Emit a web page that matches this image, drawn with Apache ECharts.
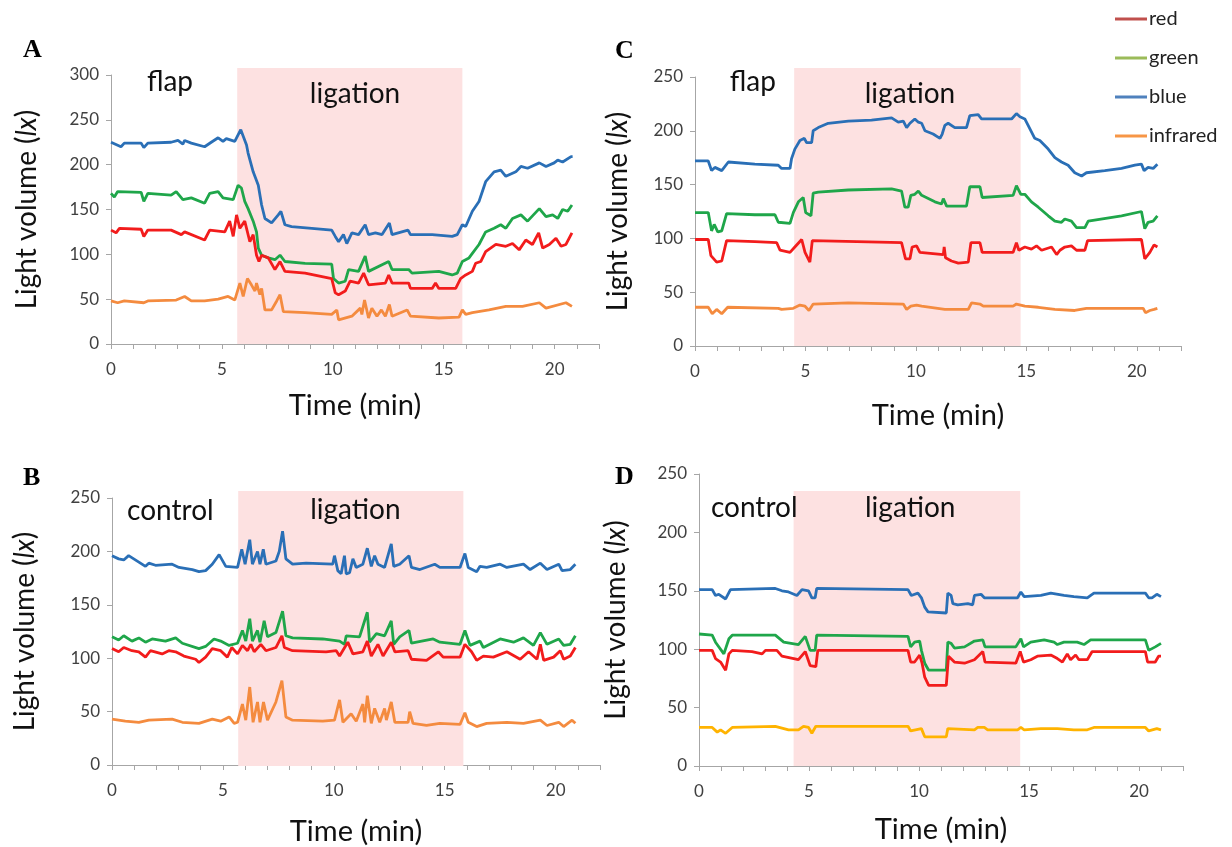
<!DOCTYPE html>
<html>
	<head>
		<meta charset="utf-8">
		<title>Light volume</title>
		<style type="text/css">
			html, body { margin: 0; padding: 0; background: #fff; }
			#main { width: 1232px; height: 847px; }
		</style>
	</head>
	<body>
		<div id="main"></div>
		<script src="https://cdn.jsdelivr.net/npm/echarts@6/dist/echarts.min.js"></script>
		<script type="text/javascript">
			// ---- data: [time (min), light volume (lx)] ----
			var aBlue = [[0,225],[0.45,220],[0.6,224],[1.36,224],[1.48,219],[1.66,224],[2.71,225],[3.02,227],[3.24,223],[3.32,227],[3.62,224],[4.22,220],[4.52,225],[4.83,230],[5.05,226],[5.2,229],[5.58,226],[5.85,239],[6.11,222],[6.18,213],[6.41,192],[6.64,177],[6.79,155],[6.94,140],[7.24,135],[7.54,144],[7.66,148],[7.84,133],[8.14,131],[9.05,129],[9.95,127],[10.11,120],[10.26,114],[10.48,122],[10.63,112],[10.86,124],[11.16,122],[11.46,133],[11.61,122],[11.92,124],[12.22,122],[12.55,135],[12.67,122],[13.39,127],[13.5,122],[14.48,122],[15.38,120],[15.61,122],[15.84,133],[15.99,131],[16.29,148],[16.59,159],[16.89,181],[17.27,192],[17.57,194],[17.8,187],[18.25,192],[18.48,198],[18.78,196],[19.31,202],[19.61,198],[19.98,202],[20.14,205],[20.36,203],[20.74,209],[20.81,209]];
			var aGreen = [[0,168],[0.15,164],[0.3,170],[1.36,169],[1.48,159],[1.66,168],[2.71,166],[2.94,170],[3.24,161],[3.62,163],[4.22,157],[4.45,168],[4.83,170],[5.05,163],[5.51,161],[5.73,177],[5.88,174],[6.03,159],[6.18,151],[6.41,137],[6.56,125],[6.64,107],[6.79,99],[7.09,96],[7.39,94],[7.62,99],[7.84,92],[8.75,90],[9.95,89],[10.03,73],[10.26,68],[10.56,70],[10.71,83],[11.16,81],[11.46,98],[11.61,81],[12.52,92],[12.67,83],[13.42,83],[13.57,79],[14.78,81],[15.38,77],[15.61,79],[15.84,92],[16.14,96],[16.29,101],[16.59,111],[16.89,125],[17.27,129],[17.57,133],[17.8,129],[18.1,140],[18.48,144],[18.78,137],[19.31,151],[19.61,142],[19.91,144],[20.14,140],[20.36,150],[20.59,148],[20.78,155]];
			var aRed = [[0,127],[0.23,124],[0.38,129],[1.36,128],[1.48,120],[1.66,127],[2.71,127],[3.17,122],[3.32,125],[4.22,116],[4.45,127],[5.13,125],[5.35,137],[5.51,120],[5.66,144],[5.81,129],[6.03,137],[6.26,114],[6.41,122],[6.56,99],[6.67,92],[6.79,99],[7.09,96],[7.39,83],[7.62,92],[7.84,81],[8.75,79],[9.95,73],[10.11,57],[10.26,55],[10.56,59],[10.78,70],[11.16,68],[11.39,79],[11.61,66],[12.37,68],[12.52,77],[12.67,68],[13.42,68],[13.5,62],[14.48,62],[14.63,68],[14.78,62],[15.54,62],[15.76,73],[15.99,77],[16.29,81],[16.44,90],[16.67,92],[16.89,103],[17.35,111],[17.8,109],[18.1,112],[18.4,105],[18.7,116],[19.0,111],[19.28,124],[19.46,107],[19.76,111],[20.06,118],[20.29,109],[20.51,111],[20.78,124]];
			var aInfrared = [[0,48],[0.3,46],[0.6,48],[1.48,46],[1.66,48],[2.94,49],[3.32,53],[3.62,48],[4.22,48],[4.83,50],[5.28,53],[5.58,49],[5.81,68],[5.96,53],[6.15,73],[6.33,66],[6.49,59],[6.56,68],[6.71,55],[6.79,62],[6.94,38],[7.24,38],[7.47,48],[7.62,55],[7.77,36],[8.75,35],[9.95,33],[10.18,38],[10.26,27],[10.86,31],[11.24,40],[11.31,33],[11.43,49],[11.61,29],[11.76,40],[11.99,31],[12.19,38],[12.37,31],[12.55,44],[12.67,31],[13.35,38],[13.5,31],[14.78,29],[15.69,30],[15.84,38],[15.99,33],[16.29,35],[17.04,38],[17.8,42],[18.55,42],[19.31,46],[19.61,40],[20.51,46],[20.78,42]];

			var bBlue = [[0,196],[0.3,193],[0.53,192],[0.75,196],[0.98,193],[1.21,190],[1.51,186],[1.66,189],[1.96,187],[2.71,188],[3.02,185],[3.62,183],[3.92,181],[4.22,182],[4.52,188],[4.83,197],[5.13,186],[5.66,185],[5.85,202],[6.0,188],[6.21,211],[6.33,188],[6.56,200],[6.67,188],[6.82,202],[6.94,188],[7.39,191],[7.54,200],[7.69,219],[7.84,193],[8.14,188],[8.75,189],[9.95,188],[10.03,196],[10.18,182],[10.33,179],[10.48,196],[10.56,179],[10.71,180],[10.86,193],[11.01,185],[11.31,188],[11.51,203],[11.69,186],[11.84,196],[11.99,188],[12.29,185],[12.59,207],[12.7,186],[12.97,188],[13.39,196],[13.5,185],[13.88,183],[14.55,188],[14.78,185],[15.69,185],[15.91,198],[16.06,185],[16.44,181],[16.59,186],[16.89,185],[17.5,188],[17.8,185],[18.55,188],[18.85,183],[19.31,189],[19.61,183],[20.14,188],[20.29,182],[20.66,183],[20.89,188]];
			var bGreen = [[0,120],[0.3,117],[0.53,121],[0.9,116],[1.21,119],[1.51,115],[1.81,118],[2.41,116],[2.87,119],[3.17,114],[3.92,109],[4.22,111],[4.6,118],[4.9,116],[5.28,112],[5.66,114],[5.88,126],[6.03,116],[6.21,137],[6.33,116],[6.56,126],[6.67,115],[6.86,135],[7.01,120],[7.39,124],[7.69,144],[7.84,121],[8.14,119],[9.5,118],[10.26,116],[10.48,113],[10.56,121],[11.16,120],[11.51,143],[11.61,115],[11.92,123],[12.29,121],[12.59,135],[12.7,113],[12.97,120],[13.39,126],[13.5,114],[14.48,118],[14.78,115],[15.69,113],[15.91,126],[16.14,112],[16.59,116],[16.74,110],[17.5,118],[18.1,115],[18.55,119],[19.0,112],[19.31,124],[19.61,113],[20.14,118],[20.36,112],[20.66,113],[20.89,121]];
			var bRed = [[0,109],[0.3,106],[0.53,110],[0.9,107],[1.21,106],[1.51,101],[1.73,107],[2.26,104],[2.56,107],[2.87,106],[3.24,102],[3.77,99],[3.92,96],[4.22,101],[4.52,109],[4.9,107],[5.2,101],[5.4,110],[5.66,104],[5.88,112],[6.11,107],[6.26,113],[6.41,106],[6.71,113],[6.94,107],[7.39,110],[7.66,121],[7.77,110],[8.14,107],[9.65,106],[10.11,107],[10.26,102],[10.63,115],[10.86,104],[11.31,106],[11.51,116],[11.69,102],[11.99,113],[12.22,102],[12.59,115],[12.75,106],[13.35,107],[13.5,99],[14.18,98],[14.71,106],[14.93,101],[15.69,101],[15.91,113],[16.21,106],[16.44,98],[16.74,102],[17.19,101],[17.8,106],[18.4,99],[18.78,106],[19.16,99],[19.31,113],[19.46,98],[19.91,101],[20.21,107],[20.36,99],[20.66,102],[20.89,110]];
			var bInfrared = [[0,43],[0.6,41],[1.21,40],[1.66,42],[2.71,43],[3.17,40],[3.92,39],[4.52,43],[4.9,41],[5.28,45],[5.51,39],[5.66,40],[5.88,57],[6.03,42],[6.21,73],[6.36,40],[6.56,59],[6.67,40],[6.83,59],[7.01,42],[7.39,59],[7.66,79],[7.84,45],[8.14,42],[9.5,41],[10.03,42],[10.26,61],[10.41,40],[10.78,48],[11.01,41],[11.31,57],[11.39,40],[11.51,65],[11.69,39],[11.84,53],[12.07,40],[12.29,53],[12.37,42],[12.59,59],[12.75,40],[13.35,40],[13.42,50],[13.57,39],[14.18,37],[14.78,39],[15.69,38],[15.91,49],[16.06,40],[16.44,36],[16.89,39],[17.8,40],[18.55,39],[19.31,42],[19.61,37],[20.14,40],[20.36,36],[20.74,42],[20.89,39]];

			var cBlue = [[0,172],[0.6,172],[0.75,163],[0.9,166],[1.21,163],[1.51,171],[2.71,169],[3.77,168],[3.92,165],[4.3,165],[4.37,174],[4.52,183],[4.75,191],[4.95,193],[5.05,189],[5.28,189],[5.35,200],[5.58,203],[6.03,207],[6.94,209],[7.99,210],[8.9,212],[9.2,208],[9.43,209],[9.58,203],[9.73,207],[9.95,211],[10.11,208],[10.26,207],[10.41,200],[10.78,197],[11.09,193],[11.19,197],[11.31,205],[11.46,207],[11.76,203],[12.29,203],[12.44,214],[12.82,215],[12.97,211],[14.33,211],[14.55,216],[14.71,213],[14.93,211],[15.08,205],[15.38,193],[15.61,191],[15.99,183],[16.29,175],[16.59,171],[16.89,168],[17.19,161],[17.5,158],[17.72,161],[18.55,163],[19.31,165],[19.91,168],[20.21,169],[20.33,163],[20.51,166],[20.74,165],[20.93,169]];
			var cGreen = [[0,124],[0.6,124],[0.75,107],[0.87,113],[1.03,106],[1.21,107],[1.43,123],[2.71,122],[3.62,122],[3.77,115],[4.3,114],[4.45,124],[4.68,134],[4.9,138],[5.01,124],[5.25,121],[5.35,142],[5.58,143],[6.94,145],[8.9,146],[9.35,144],[9.5,129],[9.65,129],[9.77,140],[9.95,141],[10.11,144],[10.26,140],[10.86,134],[11.16,132],[11.24,137],[11.39,130],[12.29,130],[12.44,148],[12.9,148],[13.0,138],[14.4,140],[14.55,149],[14.75,141],[14.93,141],[15.23,134],[15.54,129],[15.99,121],[16.29,116],[16.59,115],[16.74,118],[17.04,116],[17.27,110],[17.65,110],[17.8,116],[19.31,121],[20.21,125],[20.36,109],[20.51,115],[20.74,116],[20.93,121]];
			var cRed = [[0,99],[0.6,99],[0.72,84],[0.98,78],[1.21,79],[1.43,98],[2.71,97],[3.7,96],[3.85,89],[4.3,87],[4.52,92],[4.83,99],[4.98,87],[5.2,78],[5.31,98],[9.35,96],[9.53,81],[9.73,81],[9.83,92],[10.03,93],[10.18,87],[11.24,85],[11.28,92],[11.34,82],[11.61,79],[11.92,77],[12.37,78],[12.49,96],[12.9,96],[13.0,87],[14.4,87],[14.55,96],[14.66,89],[14.93,92],[15.23,90],[15.46,93],[15.69,89],[16.14,92],[16.37,85],[16.52,89],[16.74,92],[17.04,93],[17.27,89],[17.65,89],[17.77,98],[20.21,99],[20.36,81],[20.59,87],[20.78,94],[20.93,92]];
			var cInfrared = [[0,36],[0.6,36],[0.78,30],[0.98,34],[1.21,30],[1.48,36],[3.77,35],[3.92,34],[4.45,35],[4.75,38],[4.98,37],[5.16,33],[5.35,39],[6.94,40],[9.43,39],[9.58,34],[9.77,37],[10.03,38],[10.26,37],[11.31,34],[12.37,34],[12.52,40],[12.9,39],[13.05,37],[14.4,37],[14.55,39],[14.93,37],[15.54,36],[16.29,34],[17.19,33],[17.72,35],[20.29,35],[20.39,31],[20.59,33],[20.78,34],[20.93,35]];

			var dBlue = [[0,151],[0.6,151],[0.75,146],[0.9,147],[1.21,143],[1.43,151],[3.47,152],[3.77,150],[4.07,149],[4.45,146],[4.68,151],[4.98,150],[5.13,144],[5.28,144],[5.35,152],[9.5,151],[9.65,146],[9.95,148],[10.11,144],[10.26,136],[10.41,132],[11.24,131],[11.31,148],[11.46,146],[11.54,139],[11.76,138],[12.22,139],[12.44,138],[12.52,146],[12.82,147],[12.97,144],[14.48,144],[14.63,149],[14.78,145],[15.54,146],[15.99,148],[16.59,146],[17.04,145],[17.65,144],[17.95,148],[20.29,148],[20.44,144],[20.59,144],[20.81,147],[21.0,145]];
			var dGreen = [[0,113],[0.6,112],[0.75,106],[1.13,96],[1.36,109],[1.51,112],[3.47,112],[3.85,106],[4.52,104],[4.83,111],[5.05,99],[5.28,99],[5.35,112],[9.5,111],[9.62,102],[9.8,106],[10.03,107],[10.11,99],[10.26,88],[10.44,82],[11.24,82],[11.31,106],[11.46,105],[11.61,101],[12.07,102],[12.52,107],[12.9,108],[13.0,102],[14.4,102],[14.63,109],[14.75,102],[15.08,106],[15.69,108],[16.14,106],[16.29,104],[16.59,106],[17.19,106],[17.5,104],[17.8,108],[20.29,108],[20.44,99],[20.74,102],[21.0,105]];
			var dRed = [[0,99],[0.6,99],[0.75,92],[0.98,89],[1.21,82],[1.36,96],[1.51,99],[2.41,98],[2.87,96],[3.02,99],[3.54,99],[3.77,94],[4.52,91],[4.83,98],[5.05,86],[5.31,85],[5.4,99],[9.5,99],[9.62,89],[9.8,89],[10.03,95],[10.14,88],[10.26,76],[10.44,69],[11.24,69],[11.34,94],[11.61,89],[12.07,88],[12.52,91],[12.9,98],[13.0,89],[14.4,88],[14.6,98],[14.75,89],[15.08,91],[15.38,94],[15.99,95],[16.29,92],[16.52,89],[16.74,96],[16.89,91],[17.12,95],[17.27,91],[17.65,91],[17.87,98],[20.29,98],[20.39,89],[20.74,89],[20.89,94],[21.0,94]];
			var dInfrared = [[0,33],[0.6,33],[0.83,29],[0.98,31],[1.21,28],[1.51,33],[3.47,34],[4.07,31],[4.52,31],[4.75,34],[4.98,33],[5.13,28],[5.31,34],[9.5,34],[9.62,30],[10.11,32],[10.26,25],[11.24,25],[11.31,32],[12.52,31],[12.67,33],[12.97,33],[13.12,31],[14.48,31],[14.63,33],[14.78,31],[15.54,32],[16.29,32],[17.04,31],[17.65,31],[17.95,33],[20.29,33],[20.44,30],[20.81,32],[21.0,31]];

			// ligation period per panel (A, B, C, D), min
			var ligationStart = [5.69, 5.69, 4.49, 4.3];
			var ligationEnd = [15.84, 15.84, 14.74, 14.6];
			var yMaxes = [300, 250, 250, 250];
			var panelLetters = ['A', 'B', 'C', 'D'];
			var siteNames = ['flap', 'control', 'flap', 'control'];
			var channelNames = ['red', 'green', 'blue', 'infrared'];

			var FONT = 'Lato, "Noto Sans", sans-serif';
			var AXIS_GREY = '#a6a6a6';
			var colRed = '#f21c1c', colGreen = '#1fa64a', colBlue = '#2a6fb6', colOrange = '#f48b3f', colYellow = '#ffb300';

			// layout of the four panels, in the order A, B, C, D
			// shadeTopPx: pixel top of the pink ligation band (it overshoots the plot top in A-C)
			var layout = [
				{ grid: { left: 111, top: 75, width: 488, height: 269 }, shadeTopPx: 68, siteAt: [2.66, 292], ligAt: [11.0, 279], xGap: 47, yGap: 70 },
				{ grid: { left: 112, top: 498, width: 488, height: 268 }, shadeTopPx: 491, siteAt: [2.63, 238], ligAt: [10.97, 239], xGap: 52, yGap: 73 },
				{ grid: { left: 695, top: 77, width: 486, height: 269 }, shadeTopPx: 68, siteAt: [2.62, 245], ligAt: [9.73, 234], xGap: 55, yGap: 63 },
				{ grid: { left: 699, top: 474, width: 484, height: 292 }, shadeTopPx: 491, siteAt: [2.51, 221], ligAt: [9.6, 221], xGap: 49, yGap: 69 }
			];
			var panelSeries = [
				{ red: aRed, green: aGreen, blue: aBlue, infrared: aInfrared, ir: colOrange },
				{ red: bRed, green: bGreen, blue: bBlue, infrared: bInfrared, ir: colOrange },
				{ red: cRed, green: cGreen, blue: cBlue, infrared: cInfrared, ir: colOrange },
				{ red: dRed, green: dGreen, blue: dBlue, infrared: dInfrared, ir: colYellow }
			];
			var letterPos = [[23, 37], [23, 465], [615, 38], [615, 464]];

			var myChart = echarts.init(document.getElementById('main'), null, { renderer: 'canvas' });

			var grids = [], xAxes = [], yAxes = [], series = [], titles = [];
			var labelStyle = { fontSize: 28, fontFamily: FONT, color: '#111' };
			var n = layout.length;

			layout.forEach(function(p, i) {
				grids.push(p.grid);
				xAxes.push({
					type: 'value', gridIndex: i, min: 0, max: 22, interval: 1,
					name: 'Time (min)', nameLocation: 'middle', nameGap: p.xGap,
					nameTextStyle: { fontSize: 29, fontFamily: FONT, color: '#111' },
					axisLine: { show: true, onZero: false, lineStyle: { color: AXIS_GREY, width: 1 } },
					axisTick: { show: true, length: 5, lineStyle: { color: AXIS_GREY } },
					axisLabel: {
						fontSize: 17, fontFamily: FONT, color: '#404040', margin: 17,
						formatter: function(v) { return (v % 5 === 0 && v <= 20) ? String(v) : ''; }
					},
					splitLine: { show: false }
				});
				yAxes.push({
					type: 'value', gridIndex: i, min: 0, max: yMaxes[i], interval: 50,
					name: '{n|Light volume (}{i|lx}{n|)}', nameLocation: 'middle', nameGap: p.yGap,
					nameTextStyle: {
						rich: {
							n: { fontSize: 28, fontFamily: FONT, color: '#111' },
							i: { fontSize: 28, fontFamily: FONT, fontStyle: 'italic', color: '#111' }
						}
					},
					axisLine: { show: true, lineStyle: { color: AXIS_GREY, width: 1 } },
					axisTick: { show: true, length: 5, lineStyle: { color: AXIS_GREY } },
					axisLabel: { fontSize: 17, fontFamily: FONT, color: '#404040', margin: 12 },
					splitLine: { show: false }
				});
				titles.push({
					text: panelLetters[i], left: letterPos[i][0], top: letterPos[i][1], padding: 0,
					textStyle: { fontFamily: '"Liberation Serif", serif', fontWeight: 'bold', fontSize: 26, color: '#000' }
				});

				var s = panelSeries[i];
				var order = [
					['infrared', s.infrared, s.ir],
					['blue', s.blue, colBlue],
					['green', s.green, colGreen],
					['red', s.red, colRed]
				];
				order.forEach(function(o, k) {
					var item = {
						name: o[0], type: 'line', xAxisIndex: i, yAxisIndex: i, z: 3,
						data: o[1], symbol: 'none', showSymbol: false,
						lineStyle: { color: o[2], width: 2.8 }, itemStyle: { color: o[2] },
						emphasis: { disabled: true }, animation: false
					};
					if (k === 0) {
						item.markPoint = {
							silent: true, symbol: 'circle', symbolSize: 1,
							itemStyle: { color: 'rgba(0,0,0,0)' },
							label: Object.assign({ show: true, position: 'inside', formatter: '{b}' }, labelStyle),
							data: [
								{ name: siteNames[i], coord: p.siteAt },
								{ name: 'ligation', coord: p.ligAt }
							]
						};
					}
					series.push(item);
				});
			});

			// hidden grids, one per panel, that hold the pink ligation band
			layout.forEach(function(p, i) {
				var g = p.grid;
				grids.push({ left: g.left, width: g.width, top: p.shadeTopPx, height: g.top + g.height - p.shadeTopPx });
				xAxes.push({ type: 'value', gridIndex: n + i, min: 0, max: 22, show: false });
				yAxes.push({ type: 'value', gridIndex: n + i, min: 0, max: 1, show: false });
				series.push({
					name: 'ligation band', type: 'line', xAxisIndex: n + i, yAxisIndex: n + i, z: 1,
					data: [], silent: true, animation: false,
					markArea: {
						silent: true,
						itemStyle: { color: '#fde1e1' },
						data: [[{ xAxis: ligationStart[i], yAxis: 0 }, { xAxis: ligationEnd[i], yAxis: 1 }]]
					}
				});
			});

			var legendColors = { red: '#c0504d', green: '#9bbb59', blue: '#4f81bd', infrared: '#f79646' };

			option = {
				backgroundColor: '#fff',
				animation: false,
				title: titles,
				legend: {
					orient: 'vertical', left: 1110, top: 4,
					icon: 'rect', itemWidth: 32, itemHeight: 3, itemGap: 19,
					selectedMode: false,
					textStyle: { fontSize: 20, fontFamily: FONT, color: '#222', padding: [0, 0, 0, -3] },
					data: channelNames.map(function(nm) {
						return { name: nm, itemStyle: { color: legendColors[nm] } };
					})
				},
				grid: grids,
				xAxis: xAxes,
				yAxis: yAxes,
				series: series
			};
			myChart.setOption(option);
		</script>
	</body>
</html>
